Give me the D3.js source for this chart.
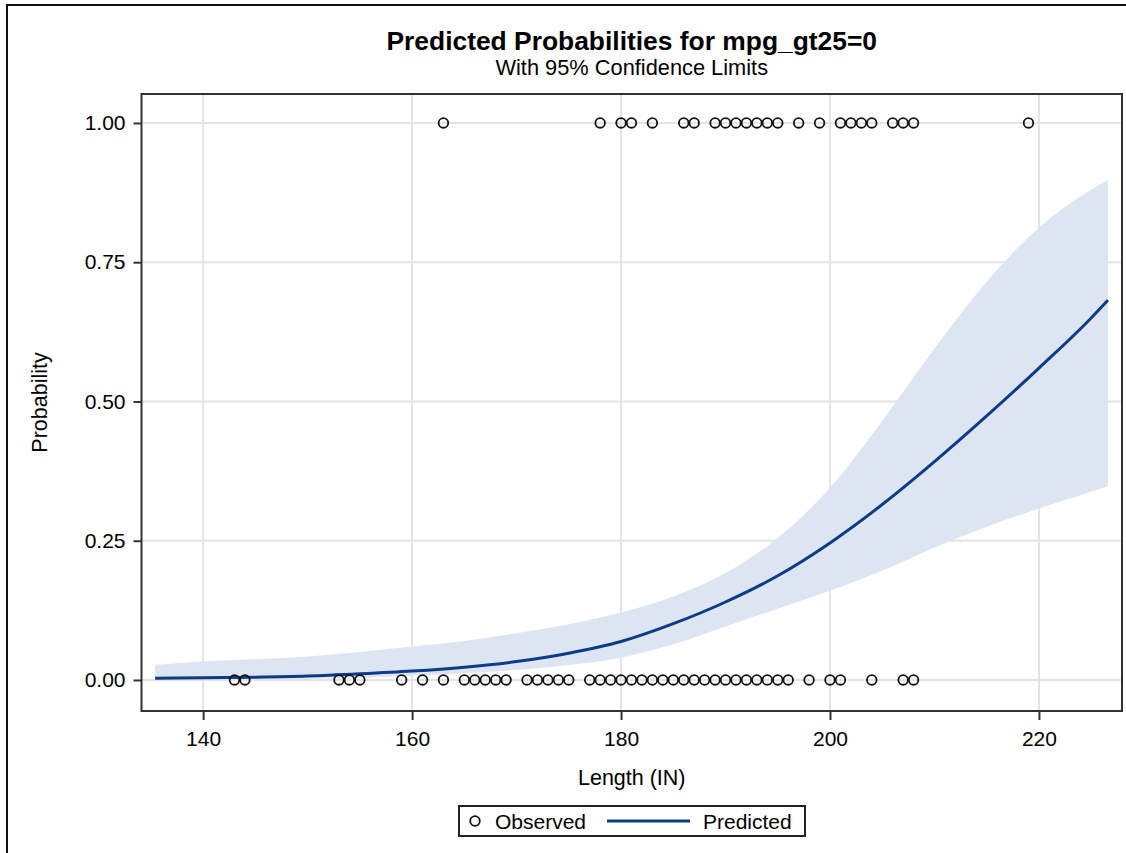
<!DOCTYPE html>
<html><head><meta charset="utf-8">
<script src="https://cdn.jsdelivr.net/npm/d3@7/dist/d3.min.js"></script>
<style>
body{margin:0;background:#fff}
text{font-family:"Liberation Sans",Arial,sans-serif;fill:#000}
</style>
</head><body>
<svg id="chart" width="1126" height="853"></svg>
<script>
// ---- data ----
const title = "Predicted Probabilities for mpg_gt25=0";
const subtitle = "With 95% Confidence Limits";
const xLabel = "Length (IN)";
const yLabel = "Probability";
const xTicks = [140, 160, 180, 200, 220];
const yTicks = [0, 0.25, 0.5, 0.75, 1.0];

const fitX     = [135.4, 140, 145, 150, 155, 160, 165, 170, 175, 180, 185, 190, 195, 200, 205, 210, 215, 220, 225, 226.6];
const predicted= [0.003, 0.004, 0.005, 0.007, 0.011, 0.016, 0.023, 0.033, 0.048, 0.069, 0.101, 0.140, 0.187, 0.246, 0.315, 0.392, 0.474, 0.560, 0.650, 0.682];
const upperCL  = [0.027, 0.033, 0.037, 0.042, 0.050, 0.060, 0.070, 0.084, 0.100, 0.121, 0.150, 0.192, 0.255, 0.345, 0.465, 0.595, 0.715, 0.812, 0.880, 0.897];
const lowerCL  = [0.0003, 0.0006, 0.001, 0.002, 0.004, 0.008, 0.012, 0.018, 0.027, 0.040, 0.064, 0.096, 0.128, 0.160, 0.196, 0.238, 0.275, 0.308, 0.338, 0.348];

const observedAt1 = [163,178,180,181,183,186,187,189,190,191,192,193,194,195,197,199,201,202,203,204,206,207,208,219];
const observedAt0 = [143,144,153,154,155,159,161,163,165,166,167,168,169,171,172,173,174,175,
  177,178,179,180,181,182,183,184,185,186,187,188,189,190,191,192,193,194,195,196,198,200,201,204,207,208];

const legendItems = ["Observed", "Predicted"];

// ---- drawing ----
const svg = d3.select("#chart");
const L = 141.5, R = 1122, T = 94, B = 711;
const x = d3.scaleLinear().domain([134.1, 227.95]).range([L, R]);
const y = d3.scaleLinear().domain([-0.0557, 1.052]).range([B, T]);
const lineColor = "#0c3c84", bandColor = "#dce5f1";

// outer border
svg.append("rect").attr("x", 7).attr("y", 5).attr("width", 1140).attr("height", 870)
  .attr("fill", "none").attr("stroke", "#111").attr("stroke-width", 2);

svg.append("defs").append("clipPath").attr("id", "clip")
  .append("rect").attr("x", L).attr("y", T).attr("width", R - L).attr("height", B - T);

// gridlines
const g = svg.append("g");
g.selectAll(".vg").data(xTicks).join("line")
  .attr("x1", d => x(d)).attr("x2", d => x(d)).attr("y1", T).attr("y2", B)
  .attr("stroke", "#e4e4e4").attr("stroke-width", 2);
g.selectAll(".hg").data(yTicks).join("line")
  .attr("x1", L).attr("x2", R).attr("y1", d => y(d)).attr("y2", d => y(d))
  .attr("stroke", "#e4e4e4").attr("stroke-width", 2);

const fit = fitX.map((v, i) => ({x: v, p: predicted[i], lo: lowerCL[i], hi: upperCL[i]}));
const plot = svg.append("g").attr("clip-path", "url(#clip)");
plot.append("path").datum(fit)
  .attr("d", d3.area().x(d => x(d.x)).y0(d => y(d.lo)).y1(d => y(d.hi)).curve(d3.curveMonotoneX))
  .attr("fill", bandColor);
plot.append("path").datum(fit)
  .attr("d", d3.line().x(d => x(d.x)).y(d => y(d.p)).curve(d3.curveMonotoneX))
  .attr("fill", "none").attr("stroke", lineColor).attr("stroke-width", 3);

const pts = observedAt1.map(v => ({x: v, y: 1})).concat(observedAt0.map(v => ({x: v, y: 0})));
plot.selectAll(".pt").data(pts).join("circle")
  .attr("cx", d => x(d.x)).attr("cy", d => y(d.y)).attr("r", 4.8)
  .attr("fill", "none").attr("stroke", "#111").attr("stroke-width", 1.8);

// frame
svg.append("rect").attr("x", L).attr("y", T).attr("width", R - L).attr("height", B - T)
  .attr("fill", "none").attr("stroke", "#333").attr("stroke-width", 2);

// axes
const xAxis = svg.append("g").attr("transform", `translate(0,${B})`)
  .call(d3.axisBottom(x).tickValues(xTicks).tickFormat(d3.format("d")).tickSize(9).tickPadding(11));
const yAxis = svg.append("g").attr("transform", `translate(${L},0)`)
  .call(d3.axisLeft(y).tickValues(yTicks).tickFormat(d3.format(".2f")).tickSize(8).tickPadding(8));
[xAxis, yAxis].forEach(a => {
  a.select(".domain").remove();
  a.selectAll(".tick line").attr("stroke", "#333").attr("stroke-width", 2);
  a.selectAll(".tick text").attr("font-size", 21).attr("fill", "#222")
    .style("font-family", '"Liberation Sans",Arial,sans-serif');
});

// titles
svg.append("text").attr("x", (L + R) / 2).attr("y", 50).attr("text-anchor", "middle")
  .attr("font-size", 26.4).attr("font-weight", "bold").text(title);
svg.append("text").attr("x", (L + R) / 2).attr("y", 75).attr("text-anchor", "middle")
  .attr("font-size", 21.8).text(subtitle);
svg.append("text").attr("x", (L + R) / 2).attr("y", 785).attr("text-anchor", "middle")
  .attr("font-size", 21.5).text(xLabel);
svg.append("text").attr("transform", `translate(47,${(T + B) / 2}) rotate(-90)`)
  .attr("text-anchor", "middle").attr("font-size", 21.5).text(yLabel);

// legend
const lg = svg.append("g");
lg.append("rect").attr("x", 459).attr("y", 806).attr("width", 346).attr("height", 30)
  .attr("fill", "#fff").attr("stroke", "#222").attr("stroke-width", 2);
lg.append("circle").attr("cx", 475).attr("cy", 821).attr("r", 4.8)
  .attr("fill", "none").attr("stroke", "#111").attr("stroke-width", 1.8);
lg.append("text").attr("x", 495).attr("y", 829).attr("font-size", 21).text(legendItems[0]);
lg.append("line").attr("x1", 607).attr("x2", 690).attr("y1", 821).attr("y2", 821)
  .attr("stroke", lineColor).attr("stroke-width", 3);
lg.append("text").attr("x", 703).attr("y", 829).attr("font-size", 21).text(legendItems[1]);
</script>
</body></html>
